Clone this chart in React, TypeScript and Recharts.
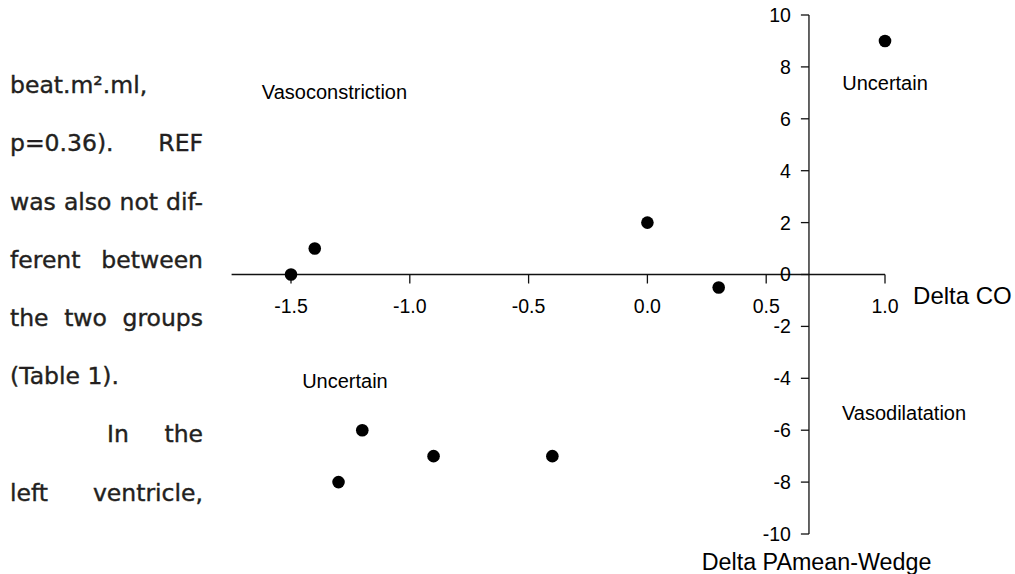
import React from 'react';
import { ScatterChart, Scatter, XAxis, YAxis, ReferenceLine, ReferenceDot } from 'recharts';

// ---- data ----
const deltaCO = [1.0, 0.0, -1.4, -1.5, 0.3, -1.2, -0.9, -0.4, -1.3];
const deltaPAW = [9, 2, 1, 0, -0.5, -6, -7, -7, -8];

const xTicks = [-1.5, -1.0, -0.5, 0.0, 0.5, 1.0];
const xTickLabels = ['-1.5', '-1.0', '-0.5', '0.0', '0.5', '1.0'];
const yTicks = [10, 8, 6, 4, 2, 0, -2, -4, -6, -8, -10];
const yTickLabels = ['10', '8', '6', '4', '2', '0', '-2', '-4', '-6', '-8', '-10'];

const quadrantLabels = ['Vasoconstriction', 'Uncertain', 'Uncertain', 'Vasodilatation'];
const quadrantX = [-1.317, 1.0, -1.273, 1.08];
const quadrantY = [7.03, 7.38, -4.1, -5.34];

const xTitle = 'Delta CO';
const yTitle = 'Delta PAmean-Wedge';

const paragraphLines = [
  'beat.m\u00B2.ml,',
  'p=0.36). REF',
  'was also not dif-',
  'ferent between',
  'the two groups',
  '(Table 1).',
  'In the',
  'left ventricle,',
];
const paragraphJustified = [false, true, true, true, true, false, true, true];
const paragraphIndent = [0, 0, 0, 0, 0, 0, 97, 0];

// ---- layout ----
const X_DOMAIN: [number, number] = [-1.75, 1.0];
const Y_DOMAIN: [number, number] = [-10, 10];
const Y_AXIS_AT = 0.68;
const X_TICK_LEN = 0.347; // data units (y)
const Y_TICK_LEN = 0.034; // data units (x)
const AXIS_COLOR = '#111';
const CHART_FONT = '"Liberation Sans", Arial, sans-serif';
const TICK_FONT = 19.5;

const dotShape = (props: any) => (
  <circle cx={props.cx} cy={props.cy} r={6.3} fill="#000" />
);

export default function App() {
  const points = deltaCO.map((x, i) => ({ x, y: deltaPAW[i] }));
  const baseline0 = 94;
  const lineStep = 58.2;
  const fontPx = 23.5;
  return (
    <div
      style={{
        position: 'absolute',
        left: 0,
        top: 0,
        width: 1015,
        height: 574,
        background: '#fff',
        overflow: 'hidden',
      }}
    >
      {paragraphLines.map((t, i) => (
        <div
          key={i}
          style={{
            position: 'absolute',
            left: 10 + paragraphIndent[i],
            top: baseline0 + lineStep * i - 0.846 * fontPx,
            width: 193 - paragraphIndent[i],
            fontFamily: '"DejaVu Sans", "Open Sans", sans-serif',
            fontSize: fontPx,
            lineHeight: `${fontPx}px`,
            color: '#231f20',
            WebkitTextStroke: '0.4px #231f20',
            whiteSpace: 'nowrap',
            textAlign: paragraphJustified[i] ? 'justify' : 'left',
            textAlignLast: paragraphJustified[i] ? 'justify' : 'left',
          } as React.CSSProperties}
        >
          {t}
        </div>
      ))}
      <div style={{ position: 'absolute', left: 0, top: 0 }}>
        <ScatterChart
          width={1015}
          height={574}
          margin={{ top: 15, right: 130, bottom: 40, left: 231.6 }}
          style={{ fontFamily: CHART_FONT }}
        >
          <XAxis type="number" dataKey="x" domain={X_DOMAIN} hide />
          <YAxis type="number" dataKey="y" domain={Y_DOMAIN} hide />

          {/* crossing axes */}
          <ReferenceLine
            segment={[{ x: X_DOMAIN[0], y: 0 }, { x: X_DOMAIN[1], y: 0 }]}
            stroke={AXIS_COLOR}
            strokeWidth={1.3}
            ifOverflow="visible"
          />
          <ReferenceLine
            segment={[{ x: Y_AXIS_AT, y: Y_DOMAIN[0] }, { x: Y_AXIS_AT, y: Y_DOMAIN[1] }]}
            stroke={AXIS_COLOR}
            strokeWidth={1.3}
            ifOverflow="visible"
          />

          {xTicks.map((t, i) => (
            <ReferenceLine
              key={`xt${i}`}
              segment={[{ x: t, y: 0 }, { x: t, y: -X_TICK_LEN }]}
              stroke={AXIS_COLOR}
              strokeWidth={1.3}
              ifOverflow="visible"
              label={{
                value: xTickLabels[i],
                position: 'bottom',
                offset: 16,
                fontSize: TICK_FONT,
                fill: '#000',
                fontFamily: CHART_FONT,
              }}
            />
          ))}

          {yTicks.map((t, i) => (
            <ReferenceLine
              key={`yt${i}`}
              segment={[{ x: Y_AXIS_AT - Y_TICK_LEN, y: t }, { x: Y_AXIS_AT, y: t }]}
              stroke={AXIS_COLOR}
              strokeWidth={1.3}
              ifOverflow="visible"
              label={{
                value: yTickLabels[i],
                position: 'left',
                offset: 10,
                fontSize: TICK_FONT,
                fill: '#000',
                fontFamily: CHART_FONT,
              }}
            />
          ))}

          {quadrantLabels.map((q, i) => (
            <ReferenceDot
              key={`q${i}`}
              x={quadrantX[i]}
              y={quadrantY[i]}
              r={0}
              fill="none"
              stroke="none"
              ifOverflow="visible"
              label={{
                value: q,
                position: 'center',
                fontSize: 20,
                fill: '#000',
                fontFamily: CHART_FONT,
              }}
            />
          ))}

          <ReferenceDot
            x={1.326}
            y={-0.79}
            r={0}
            fill="none"
            stroke="none"
            ifOverflow="visible"
            label={{ value: xTitle, position: 'center', fontSize: 24, fill: '#000', fontFamily: CHART_FONT }}
          />
          <ReferenceDot
            x={0.712}
            y={-11.07}
            r={0}
            fill="none"
            stroke="none"
            ifOverflow="visible"
            label={{ value: yTitle, position: 'center', fontSize: 23.3, fill: '#000', fontFamily: CHART_FONT }}
          />

          <Scatter data={points} fill="#000" shape={dotShape} isAnimationActive={false} />
        </ScatterChart>
      </div>
    </div>
  );
}
